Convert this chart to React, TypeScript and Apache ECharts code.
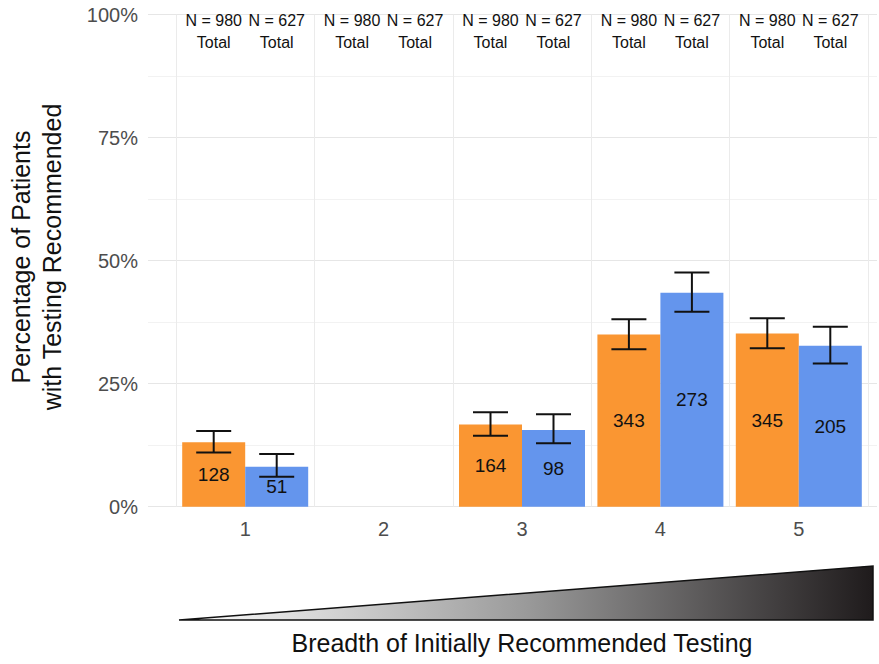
import React, { useEffect, useRef } from "react";
import * as echarts from "echarts";

const categories = ["1", "2", "3", "4", "5"];
const groupNames = ["Orange", "Blue"];
const groupTotals = [980, 627];
const orangePct = [13.1, null, 16.7, 35.0, 35.2];
const bluePct = [8.1, null, 15.6, 43.5, 32.7];
const orangeCounts = [128, null, 164, 343, 345];
const blueCounts = [51, null, 98, 273, 205];
const orangeLo = [11.0, null, 14.4, 32.0, 32.2];
const orangeHi = [15.4, null, 19.2, 38.1, 38.3];
const blueLo = [6.1, null, 12.9, 39.6, 29.1];
const blueHi = [10.7, null, 18.8, 47.6, 36.6];
const yTicks = [0, 25, 50, 75, 100];

const ORANGE = "#FA9632";
const BLUE = "#6495ED";
const FONT = "Liberation Sans, Arial, sans-serif";
const BAR_W = 63;

export default function App() {
  const ref = useRef<HTMLDivElement>(null);
  useEffect(() => {
    document.body.style.margin = "0";
    const chart = echarts.init(ref.current!, null, { renderer: "svg" });

    const errData: any[] = [];
    [orangeLo, blueLo].forEach((lo, g) => {
      const hi = g === 0 ? orangeHi : blueHi;
      lo.forEach((v, i) => {
        if (v !== null) errData.push([i, v, hi[i] as number, g]);
      });
    });
    const topData: any[] = [];
    categories.forEach((_, i) => {
      groupTotals.forEach((n, g) => topData.push([i, 100, n, g]));
    });

    const offset = (g: number) => (g === 0 ? -BAR_W / 2 : BAR_W / 2);

    chart.setOption({
      animation: false,
      textStyle: { fontFamily: FONT },
      grid: [
        { left: 148, right: 2, top: 14.7, bottom: 157.3 },
        { left: 176, right: 11, top: 14.7, bottom: 157.3 },
      ],
      xAxis: [
        { type: "value", gridIndex: 0, min: 0, max: 1, show: false },
        {
          type: "category",
          gridIndex: 1,
          data: categories,
          boundaryGap: true,
          axisLine: { show: false },
          axisTick: { show: false },
          axisLabel: { color: "#4d4d4d", fontSize: 20, margin: 12, fontFamily: FONT },
          splitLine: { show: true, lineStyle: { color: "#ebebeb", width: 1 } },
        },
      ],
      yAxis: [
        {
          type: "value",
          gridIndex: 0,
          min: yTicks[0],
          max: yTicks[yTicks.length - 1],
          interval: 25,
          axisLine: { show: false },
          axisTick: { show: false },
          axisLabel: {
            color: "#4d4d4d",
            fontSize: 20,
            margin: 10,
            fontFamily: FONT,
            formatter: (v: number) => v + "%",
          },
          splitLine: { show: true, lineStyle: { color: "#e6e6e6", width: 1 } },
          minorTick: { show: false, splitNumber: 2 },
          minorSplitLine: { show: true, lineStyle: { color: "#f2f2f2", width: 1 } },
        },
        {
          type: "value",
          gridIndex: 1,
          min: 0,
          max: 100,
          show: false,
          splitLine: { show: false },
        },
      ],
      series: [
        {
          name: groupNames[0],
          type: "bar",
          xAxisIndex: 1,
          yAxisIndex: 1,
          barWidth: BAR_W,
          barGap: "0%",
          data: orangePct.map((v) => (v === null ? "-" : v)),
          itemStyle: { color: ORANGE },
          label: {
            show: true,
            position: "inside",
            color: "#111",
            fontSize: 19,
            fontFamily: FONT,
            formatter: (p: any) => (orangeCounts[p.dataIndex] == null ? "" : String(orangeCounts[p.dataIndex])),
          },
        },
        {
          name: groupNames[1],
          type: "bar",
          xAxisIndex: 1,
          yAxisIndex: 1,
          barWidth: BAR_W,
          barGap: "0%",
          data: bluePct.map((v) => (v === null ? "-" : v)),
          itemStyle: { color: BLUE },
          label: {
            show: true,
            position: "inside",
            color: "#111",
            fontSize: 19,
            fontFamily: FONT,
            formatter: (p: any) => (blueCounts[p.dataIndex] == null ? "" : String(blueCounts[p.dataIndex])),
          },
        },
        {
          type: "custom",
          xAxisIndex: 1,
          yAxisIndex: 1,
          data: errData,
          z: 5,
          renderItem: (params: any, api: any) => {
            const i = api.value(0);
            const g = api.value(3);
            const lo = api.coord([i, api.value(1)]);
            const hi = api.coord([i, api.value(2)]);
            const x = lo[0] + offset(g);
            const cap = 17.5;
            const style = { stroke: "#111", lineWidth: 2 };
            return {
              type: "group",
              children: [
                { type: "line", shape: { x1: x, y1: lo[1], x2: x, y2: hi[1] }, style },
                { type: "line", shape: { x1: x - cap, y1: lo[1], x2: x + cap, y2: lo[1] }, style },
                { type: "line", shape: { x1: x - cap, y1: hi[1], x2: x + cap, y2: hi[1] }, style },
              ],
            };
          },
        },
        {
          type: "custom",
          xAxisIndex: 1,
          yAxisIndex: 1,
          data: topData,
          z: 5,
          renderItem: (params: any, api: any) => {
            const i = api.value(0);
            const g = api.value(3);
            const p = api.coord([i, api.value(1)]);
            return {
              type: "text",
              x: p[0] + offset(g),
              y: p[1] + 17,
              style: {
                text: "N = " + api.value(2) + "\nTotal",
                fill: "#111",
                fontSize: 16,
                fontFamily: FONT,
                lineHeight: 22,
                align: "center",
                verticalAlign: "middle",
              },
            };
          },
        },
      ],
      graphic: [
        {
          type: "text",
          x: 36,
          y: 257,
          rotation: Math.PI / 2,
          style: {
            text: "Percentage of Patients\nwith Testing Recommended",
            fill: "#111",
            fontSize: 25,
            lineHeight: 31,
            fontFamily: FONT,
            align: "center",
            verticalAlign: "middle",
          },
        },
        {
          type: "polygon",
          shape: { points: [[179, 620], [873, 566], [873, 620]] },
          style: {
            fill: new echarts.graphic.LinearGradient(0, 0, 1, 0, [
              { offset: 0, color: "#ffffff" },
              { offset: 0.5, color: "#9a9a9a" },
              { offset: 1, color: "#1f1b1c" },
            ]),
            stroke: "#111",
            lineWidth: 1.5,
          },
        },
        {
          type: "text",
          x: 522,
          y: 643,
          style: {
            text: "Breadth of Initially Recommended Testing",
            fill: "#111",
            fontSize: 25,
            fontFamily: FONT,
            align: "center",
            verticalAlign: "middle",
          },
        },
      ],
    });
    return () => chart.dispose();
  }, []);
  return <div ref={ref} style={{ width: 879, height: 664 }} />;
}
